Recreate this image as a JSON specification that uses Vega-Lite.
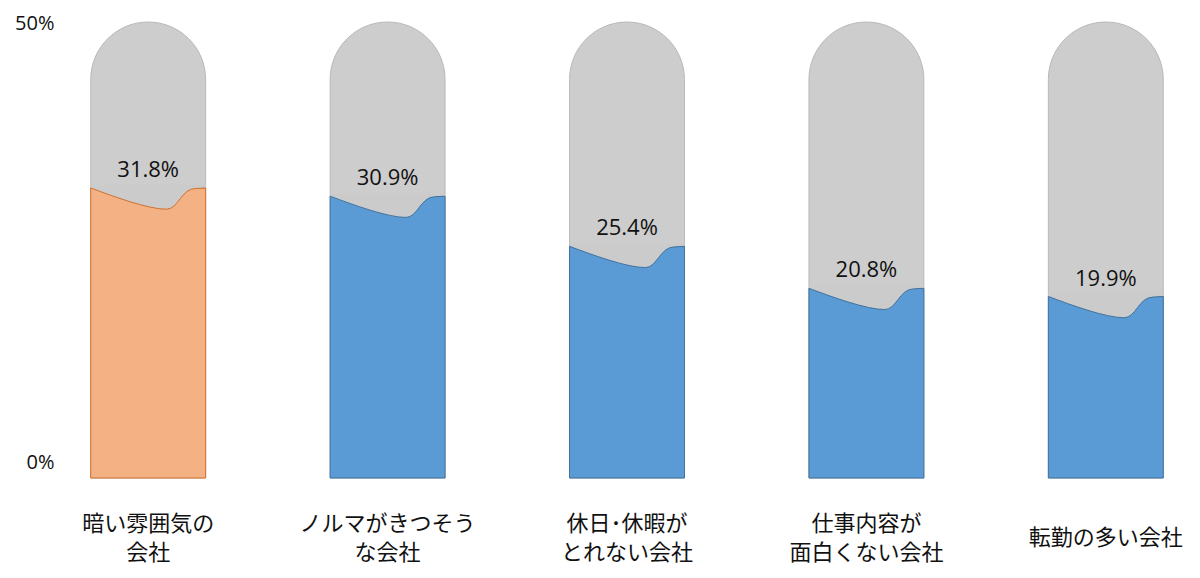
{
  "$schema": "https://vega.github.io/schema/vega-lite/v6.json",
  "width": 1130,
  "height": 456,
  "autosize": {"type": "none"},
  "padding": {"left": 62, "top": 22, "right": 8, "bottom": 100},
  "background": "white",
  "config": {"view": {"stroke": null}, "font": "Noto Sans CJK JP"},
  "data": {
    "values": [
      {"category": "暗い雰囲気の\n会社", "value": 31.8, "label": "31.8%", "group": "focus"},
      {"category": "ノルマがきつそう\nな会社", "value": 30.9, "label": "30.9%", "group": "other"},
      {"category": "休日･休暇が\nとれない会社", "value": 25.4, "label": "25.4%", "group": "other"},
      {"category": "仕事内容が\n面白くない会社", "value": 20.8, "label": "20.8%", "group": "other"},
      {"category": "転勤の多い会社", "value": 19.9, "label": "19.9%", "group": "other"}
    ]
  },
  "encoding": {
    "x": {
      "field": "category",
      "type": "nominal",
      "sort": null,
      "title": null,
      "scale": {"paddingInner": 0.52, "paddingOuter": 0.12},
      "axis": {
        "labelExpr": "split(datum.label, '\\n')",
        "labelAngle": 0,
        "labelFont": "Noto Sans CJK JP",
        "labelFontSize": 22,
        "labelLineHeight": 29,
        "labelColor": "#111111",
        "labelBaseline": "middle",
        "labelPadding": {"condition": {"test": "datum.value == '転勤の多い会社'", "value": 59}, "value": 45},
        "ticks": false,
        "tickSize": 0,
        "domain": false,
        "grid": false,
        "labelLimit": 300
      }
    }
  },
  "layer": [
    {
      "mark": {"type": "bar", "fill": "#cdcdcd", "stroke": "#b9b9b9", "strokeWidth": 1, "cornerRadiusTopLeft": 57.5, "cornerRadiusTopRight": 57.5},
      "encoding": {
        "y": {
          "datum": 50,
          "type": "quantitative",
          "scale": {"domain": [0, 50], "nice": false, "zero": true},
          "axis": {
            "values": [0, 50],
            "labelExpr": "datum.value + '%'",
            "labelFont": "Open Sans",
            "labelFontSize": 20,
            "labelColor": "#111111",
            "labelPadding": 8,
            "labelOffset": {"condition": {"test": "datum.value == 0", "value": -16}, "value": 1},
            "ticks": false,
            "tickSize": 0,
            "domain": false,
            "grid": false,
            "title": null
          }
        },
        "y2": {"datum": 0}
      }
    },
    {
      "mark": {"type": "bar", "strokeWidth": 1},
      "encoding": {
        "y": {"field": "value", "type": "quantitative"},
        "y2": {"datum": 0},
        "fill": {"field": "group", "type": "nominal", "scale": {"domain": ["focus", "other"], "range": ["#f4b183", "#5b9bd5"]}, "legend": null},
        "stroke": {"field": "group", "type": "nominal", "scale": {"domain": ["focus", "other"], "range": ["#d0712e", "#41719c"]}, "legend": null}
      }
    },
    {
      "mark": {
        "type": "point",
        "shape": "M-1,0 C-0.6,0.15 0,0.37 0.32,0.37 C0.52,0.37 0.58,0.01 0.82,0.01 L1,0 L1,-0.05 L-1,-0.05 Z",
        "filled": true,
        "fill": "#cbcbcb",
        "fillOpacity": 1,
        "opacity": 1,
        "strokeWidth": 0,
        "size": 13200
      },
      "encoding": {
        "y": {"field": "value", "type": "quantitative"}
      }
    },
    {
      "mark": {
        "type": "point",
        "shape": "M-1,0 C-0.6,0.15 0,0.37 0.32,0.37 C0.52,0.37 0.58,0.01 0.82,0.01 L1,0",
        "filled": false,
        "strokeWidth": 1,
        "opacity": 1,
        "size": 13200
      },
      "encoding": {
        "y": {"field": "value", "type": "quantitative"},
        "stroke": {"field": "group", "type": "nominal", "scale": {"domain": ["focus", "other"], "range": ["#d0712e", "#41719c"]}, "legend": null}
      }
    },
    {
      "mark": {"type": "text", "dy": -18, "baseline": "middle", "align": "center", "font": "Open Sans", "fontSize": 22, "color": "#111111"},
      "encoding": {
        "y": {"field": "value", "type": "quantitative"},
        "text": {"field": "label", "type": "nominal"}
      }
    }
  ]
}
